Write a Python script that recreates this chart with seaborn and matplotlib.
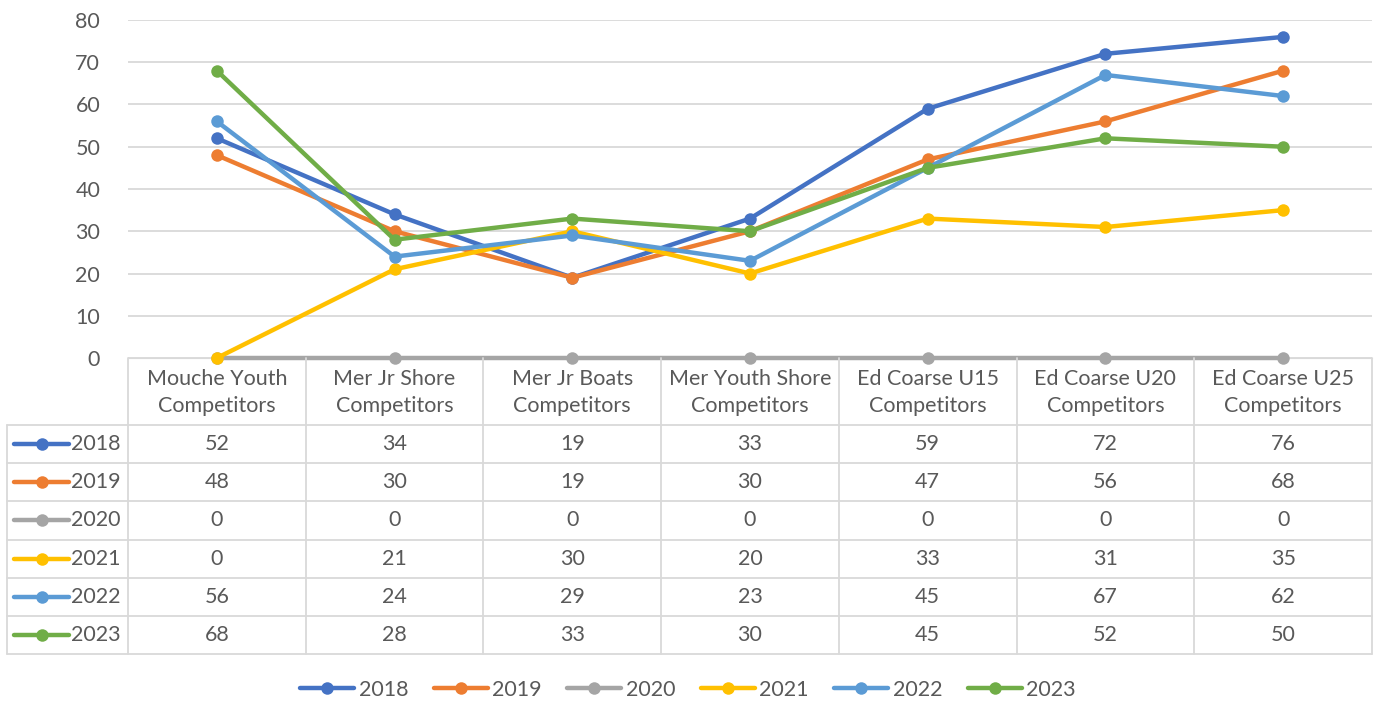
import pandas as pd
import matplotlib.pyplot as plt
import seaborn as sns
from matplotlib.lines import Line2D
from matplotlib.transforms import blended_transform_factory

categorias = ['Mouche Youth\nCompetitors', 'Mer Jr Shore\nCompetitors', 'Mer Jr Boats\nCompetitors',
              'Mer Youth Shore\nCompetitors', 'Ed Coarse U15\nCompetitors', 'Ed Coarse U20\nCompetitors',
              'Ed Coarse U25\nCompetitors']
anios = ['2018', '2019', '2020', '2021', '2022', '2023']
v2018 = [52, 34, 19, 33, 59, 72, 76]
v2019 = [48, 30, 19, 30, 47, 56, 68]
v2020 = [0, 0, 0, 0, 0, 0, 0]
v2021 = [0, 21, 30, 20, 33, 31, 35]
v2022 = [56, 24, 29, 23, 45, 67, 62]
v2023 = [68, 28, 33, 30, 45, 52, 50]
colores = ['#4472C4', '#ED7D31', '#A5A5A5', '#FFC000', '#5B9BD5', '#70AD47']

series = [v2018, v2019, v2020, v2021, v2022, v2023]
filas = []
for anio, valores in zip(anios, series):
    for i, v in enumerate(valores):
        filas.append({'pos': i, 'valor': v, 'anio': anio})
df = pd.DataFrame(filas)

sns.set_style('white')
plt.rcParams['font.family'] = ['Lato', 'DejaVu Sans']
texto = '#595959'
rejilla = '#D9D9D9'
fs = 15.5

W, H = 1376, 702
fig = plt.figure(figsize=(W / 100, H / 100), dpi=100)

def fx(x):
    return x / W

def fy(y):
    return 1 - y / H

ax = fig.add_axes([fx(128), fy(358), fx(1372) - fx(128), fy(20) - fy(358)])

sns.lineplot(data=df, x='pos', y='valor', hue='anio', hue_order=anios, palette=colores,
             marker='o', markersize=9, markeredgewidth=0, linewidth=3.2,
             legend=False, ax=ax, zorder=3)

ax.set_xlim(-0.5, len(categorias) - 0.5)
ax.set_ylim(0, 80)
ax.set_yticks(range(0, 81, 10))
ax.set_xticks([])
ax.set_xlabel('')
ax.set_ylabel('')
ax.yaxis.grid(True, color=rejilla, linewidth=1.3)
ax.set_axisbelow(True)
for s in ['top', 'right', 'left']:
    ax.spines[s].set_visible(False)
ax.spines['bottom'].set_color(rejilla)
ax.tick_params(axis='y', length=0, labelsize=fs, labelcolor=texto, pad=20)
for c in ax.get_children():
    if isinstance(c, Line2D):
        c.set_clip_on(False)

# Tabla de datos debajo del gráfico
tr = blended_transform_factory(ax.transData, fig.transFigure)
y_top, y_head = 358, 425
alto = (654 - y_head) / len(anios)
linea = dict(color=rejilla, linewidth=1.3)

for i, cat in enumerate(categorias):
    fig.text(i, fy((y_top + y_head) / 2 + 1), cat, transform=tr, ha='center', va='center',
             fontsize=fs, color=texto, linespacing=1.45)

for k in range(len(categorias) + 1):
    xx = fx(128 + k * (1372 - 128) / len(categorias))
    fig.add_artist(Line2D([xx, xx], [fy(y_top), fy(654)], **linea))
fig.add_artist(Line2D([fx(7), fx(7)], [fy(y_head), fy(654)], **linea))
for r in range(len(anios) + 1):
    yy = fy(y_head + r * alto)
    fig.add_artist(Line2D([fx(7), fx(1372)], [yy, yy], **linea))

for r, (anio, valores, col) in enumerate(zip(anios, series, colores)):
    yc = fy(y_head + (r + 0.5) * alto)
    fig.add_artist(Line2D([fx(14), fx(69)], [yc, yc], color=col, linewidth=3.2,
                          solid_capstyle='round'))
    fig.add_artist(Line2D([fx(41.5)], [yc], color=col, marker='o', markersize=9,
                          markeredgewidth=0))
    fig.text(fx(121), yc, anio, ha='right', va='center', fontsize=fs, color=texto)
    for i, v in enumerate(valores):
        fig.text(i, yc, str(v), transform=tr, ha='center', va='center', fontsize=fs, color=texto)

# Leyenda inferior
manejadores = [Line2D([0], [0], color=c, linewidth=3.2, marker='o', markersize=9,
                      markeredgewidth=0, solid_capstyle='round') for c in colores]
fig.legend(manejadores, anios, loc='center', bbox_to_anchor=(0.5, fy(690)), ncol=6,
           frameon=False, fontsize=fs, labelcolor=texto, handlelength=2.5,
           handletextpad=0.2, columnspacing=1.2)

fig.savefig('out.png', dpi=100)
